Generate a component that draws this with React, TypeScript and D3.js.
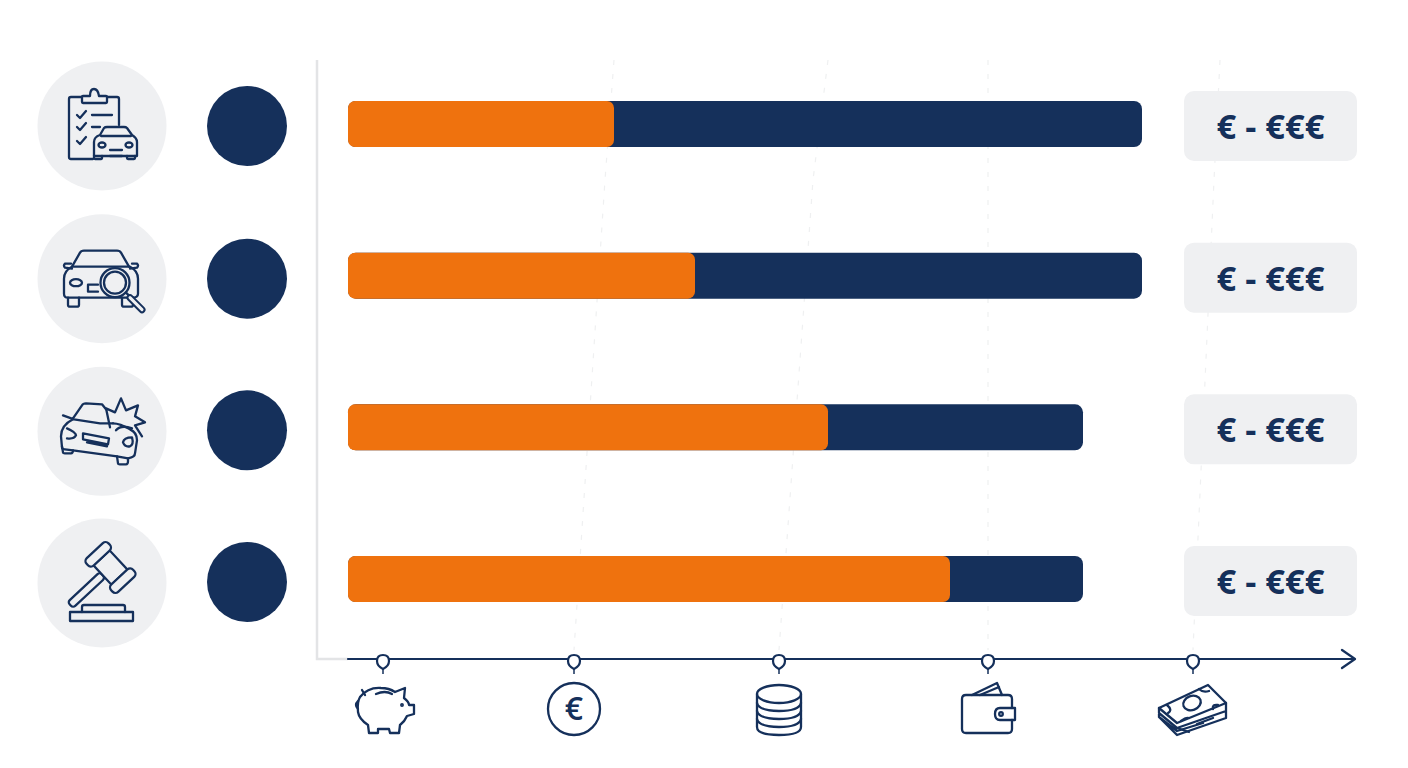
import React from "react";
import * as d3 from "d3";

const NAVY = "#15305b";
const ORANGE = "#ef720e";
const GREY = "#eff0f2";

const categories = ["checklist", "inspection", "collision", "legal"];
const orangeValues = [26.6, 34.7, 48.0, 60.2];
const totalValues = [79.4, 79.4, 73.5, 73.5];
const rangeLabels = ["€ - €€€", "€ - €€€", "€ - €€€", "€ - €€€"];
const axisIcons = ["pig", "euro", "coins", "wallet", "cash"];
const axisTicks = [3.5, 22.6, 43.1, 64.0, 84.5];
const guideTop = [null, 26.6, 48.0, 64.0, 87.2];
const guideBreak = [null, 25.7, 46.5, 64.0, 86.6];

const x = d3.scaleLinear().domain([0, 100]).range([348, 1348]);
const y = d3.scalePoint<string>().domain(categories).range([124, 579]);
const greyShift = [2, 3, 4, 4];
const dotShift = [2, 3, 3, 3];

const s = { fill: "none", stroke: NAVY, strokeWidth: 2.3, strokeLinecap: "round", strokeLinejoin: "round" } as const;

function CategoryIcon({ name }: { name: string }) {
  if (name === "checklist") {
    return (
      <g {...s}>
        <path d="M-20,-29H-31Q-33,-29 -33,-27V31Q-33,33 -31,33H-9M5,-29H15Q17,-29 17,-27V-1" />
        <path d="M-20,-29V-24Q-20,-23 -19,-23H4Q5,-23 5,-24V-29Q5,-30 4,-30H-3Q-4,-37 -8,-37Q-12,-37 -12,-30H-19Q-20,-30 -20,-29Z" />
        <path d="M-25,-11l3,3l6,-7M-25,1l3,3l6,-7M-25,15l3,3l6,-7M-10,-11H10M-10,1H-2" />
        <path d="M-8,30V16Q-8,11 -2,9L2,2Q3,1 5,1H22Q24,1 25,2L30,9Q35,12 35,16V30Z" fill={GREY} />
        <path d="M-1,10H29M8,24H20M-8,30V32Q-8,33 -7,33H-1Q0,33 0,32V30M25,30V32Q25,33 26,33H32Q33,33 33,32V30M8,30H20" />
        <ellipse cx={0} cy={19} rx={3.5} ry={2.5} />
        <ellipse cx={27} cy={19} rx={3.5} ry={2.5} />
      </g>
    );
  }
  if (name === "inspection") {
    return (
      <g {...s}>
        <path d="M-30,-12L-22,-26Q-21,-28 -18,-28H15Q18,-28 19,-26L27,-12" />
        <path d="M-30,-12Q-38,-8 -38,0V15Q-38,19 -34,19H30Q36,19 36,15V0Q36,-8 28,-12Z" />
        <path d="M-30,-10L-37,-11Q-39,-13 -37,-15L-31,-15M28,-10L35,-11Q37,-13 35,-15L30,-15" />
        <path d="M-34,19V26Q-34,28 -32,28H-25Q-23,28 -23,26V19M20,19V26Q20,28 22,28H29Q31,28 31,26V19" />
        <ellipse cx={-26} cy={4} rx={6} ry={3.5} />
        <path d="M-4,6H-14V13H-4" />
        <circle cx={13} cy={4} r={14.5} fill={GREY} />
        <circle cx={13} cy={4} r={11} />
        <path d="M24,14L28,18" />
        <path d="M28,19L40,31" stroke={NAVY} strokeWidth={7} />
        <path d="M28,19L40,31" stroke={GREY} strokeWidth={3} />
      </g>
    );
  }
  if (name === "collision") {
    return (
      <g {...s}>
        <path d="M4,-23L13,-19L19,-33L24,-21L36,-26L33,-15L43,-9L33,-6L40,5L30,0" fill={GREY} stroke="none" />
        <path d="M8,-4L4,-23L13,-19L19,-33L24,-21L36,-26L33,-15L43,-9L33,-6L40,5" />
        <path d="M-29,-13L-20,-26Q-19,-28 -16,-28L0,-27L4,-22M-39,-16L-28,-12L-2,-8H11" />
        <path d="M-29,-12Q-41,-6 -41,5L-40,16Q-40,18 -37,18L-29,19L15,25L26,27Q33,26 33,22L35,9Q35,1 28,-2Q18,-8 11,-8" />
        <path d="M-40,15L-39,21Q-39,22 -37,22H-31Q-29,22 -29,19M15,25L16,32Q16,33 18,33H24Q26,33 26,30V27" />
        <path d="M-19,2L7,7L6,13L-19,8ZM-15,11L5,15" />
        <path d="M-35,-3Q-26,1 -26,4Q-28,8 -35,7M30,6Q22,6 21,11Q23,16 28,15Q32,13 30,6ZM14,-1Q19,-7 30,-3" />
      </g>
    );
  }
  return (
    <g {...s}>
      <g transform="translate(8.5,-15.5) rotate(47)">
        <rect x={-4} y={11} width={8} height={44} rx={3} />
        <rect x={-13} y={-11} width={26} height={22} fill={GREY} />
        <rect x={-23} y={-15} width={10} height={30} rx={4} fill={GREY} />
        <rect x={13} y={-15} width={10} height={30} rx={4} fill={GREY} />
      </g>
      <path d="M-20,29V24Q-20,22 -18,22H21Q23,22 23,24V29" />
      <rect x={-32} y={29} width={63} height={9} />
    </g>
  );
}

function AxisIcon({ name }: { name: string }) {
  if (name === "pig") {
    return (
      <g {...s}>
        <path d="M12,-18L22,-22L21,-12Q26,-8 26,-5H31V4L24,6Q22,11 17,15L16,23H7L6,19H-5L-5,23H-14L-15,15Q-24,9 -25,2Q-26,-8 -23,-13Q-15,-23 -2,-22Q6,-22 12,-18Z" />
        <path d="M-25,-9Q-29,-5 -25,-1M-21,-20L-18,-15M-7,-16Q2,-20 9,-16" />
        <circle cx={19} cy={-5} r={0.8} />
      </g>
    );
  }
  if (name === "euro") {
    return (
      <g {...s}>
        <circle cx={0} cy={-1} r={26} />
        <text x={0} y={10} textAnchor="middle" fontFamily="'Open Sans', sans-serif" fontSize={32} fontWeight={600} fill={NAVY} stroke="none">€</text>
      </g>
    );
  }
  if (name === "coins") {
    return (
      <g {...s}>
        <ellipse cx={0} cy={-16} rx={22} ry={9} />
        <path d="M-22,-16V17Q-22,25 0,25Q22,25 22,17V-16" />
        <path d="M-22,-7Q-20,1 0,1Q20,1 22,-7M-22,1Q-20,9 0,9Q20,9 22,1M-22,9Q-20,17 0,17Q20,17 22,9" />
      </g>
    );
  }
  if (name === "wallet") {
    return (
      <g {...s}>
        <path d="M-16,-15L9,-27L14,-15M-8,-15L11,-23" />
        <path d="M24,-2V-11Q24,-15 20,-15H-22Q-26,-15 -26,-11V19Q-26,23 -22,23H20Q24,23 24,19V10" />
        <path d="M27,-2H12Q7,-2 7,4Q7,10 12,10H27Z" />
        <circle cx={13} cy={4} r={1.8} />
      </g>
    );
  }
  return (
    <g {...s}>
      <path d="M15,-25L33,-7L-16,13L-34,-2Z" />
      <path d="M-34,-2V7L-16,25L33,8V-7M-34,3L-16,18L33,1M-34,7L-16,21L10,13" />
      <ellipse cx={-1} cy={-7} rx={9} ry={7} transform="rotate(-20 -1 -7)" />
      <path d="M6,-21Q10,-17 16,-19M-26,-5Q-20,0 -25,3M25,-5Q19,-6 20,-1M-12,11Q-7,7 -4,8M4,14L20,8M-4,22L-16,18" />
    </g>
  );
}

export default function App() {
  const axisY = 659;
  return (
    <svg width={1408} height={768} style={{ position: "absolute", left: 0, top: 0, display: "block", background: "#fff" }}>
      {axisTicks.map((t, i) => guideTop[i] === null ? null : (
        <path
          key={`guide-${i}`}
          d={`M${x(guideTop[i] as number)},60L${x(guideBreak[i] as number)},180L${x(t)},650`}
          fill="none" stroke="#eff0f1" strokeWidth={1.2} strokeDasharray="5 9"
        />
      ))}
      <path d={`M317,60V${axisY}H${x(0)}`} fill="none" stroke="#e3e4e6" strokeWidth={2.5} />

      {categories.map((c, i) => {
        const cy = y(c) as number;
        const gy = cy + greyShift[i];
        return (
          <g key={c}>
            <circle cx={102} cy={gy} r={64.5} fill={GREY} />
            <g transform={`translate(102,${gy})`}><CategoryIcon name={c} /></g>
            <circle cx={247} cy={cy + dotShift[i]} r={40} fill={NAVY} />
            <rect x={x(0)} y={cy - 23} width={x(totalValues[i]) - x(0)} height={46} rx={8} fill={NAVY} />
            <rect x={x(0)} y={cy - 23} width={x(orangeValues[i]) - x(0)} height={46} rx={7} fill={ORANGE} />
            <rect x={1184} y={cy - 33} width={173} height={70} rx={10} fill={GREY} />
            <text
              x={1270.5} y={cy + 15} textAnchor="middle"
              fontFamily="'Open Sans', sans-serif" fontWeight={700} fontSize={34.5} fill={NAVY}
            >{rangeLabels[i]}</text>
          </g>
        );
      })}

      <path d={`M${x(0)},${axisY}H1355M1342,650L1355,${axisY}L1342,668`} fill="none" stroke={NAVY} strokeWidth={2.2} strokeLinejoin="round" strokeLinecap="round" />
      {axisTicks.map((t, i) => (
        <g key={axisIcons[i]} transform={`translate(${x(t)},0)`}>
          <path d="M0,655Q6,655 6,661Q6,666 0,669Q-6,666 -6,661Q-6,655 0,655Z" fill="#fff" stroke={NAVY} strokeWidth={2.2} />
          <path d="M0,669V674" stroke={NAVY} strokeWidth={1.5} />
          <g transform="translate(0,710)"><AxisIcon name={axisIcons[i]} /></g>
        </g>
      ))}
    </svg>
  );
}
